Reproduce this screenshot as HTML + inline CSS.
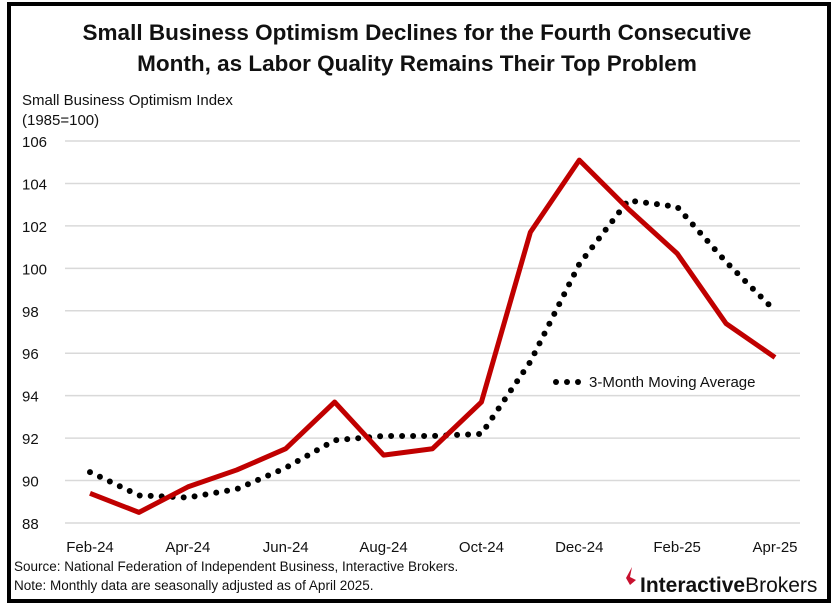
<!DOCTYPE html>
<html><head><meta charset="utf-8"><style>
body{margin:0;background:#fff;width:835px;height:610px;overflow:hidden;font-family:"Liberation Sans",sans-serif}
</style></head><body>
<svg width="835" height="610" viewBox="0 0 835 610" style="position:absolute;left:0;top:0">
<rect x="9" y="4" width="820" height="597" fill="#fff" stroke="#000" stroke-width="4"/>
<text x="417" y="40" text-anchor="middle" font-size="22.5" font-weight="bold" fill="#111">Small Business Optimism Declines for the Fourth Consecutive</text>
<text x="417" y="71" text-anchor="middle" font-size="22.5" font-weight="bold" fill="#111">Month, as Labor Quality Remains Their Top Problem</text>
<text x="22" y="105" font-size="15" fill="#111">Small Business Optimism Index</text>
<text x="22" y="125" font-size="15" fill="#111">(1985=100)</text>
<g id="grid"></g><g id="yt"></g><g id="xt"></g>
<g id="series"></g>
<circle cx="556" cy="382" r="3" fill="#000"/>
<circle cx="567" cy="382" r="3" fill="#000"/>
<circle cx="578" cy="382" r="3" fill="#000"/>
<text x="589" y="387" font-size="15" fill="#111">3-Month Moving Average</text>
<text x="14" y="571" font-size="13.5" fill="#111">Source: National Federation of Independent  Business, Interactive Brokers.</text>
<text x="14" y="590" font-size="13.5" fill="#111">Note: Monthly data are seasonally adjusted as of April 2025.</text>
<path d="M632 567 L626 578 L630 585 L636 580 L630 577 Z" fill="#c8102e"/>
<text x="640" y="592" font-size="21" fill="#111"><tspan font-weight="bold">Interactive</tspan>Brokers</text>
</svg>
<script>
const categories=["Feb-24","Mar-24","Apr-24","May-24","Jun-24","Jul-24","Aug-24","Sep-24","Oct-24","Nov-24","Dec-24","Jan-25","Feb-25","Mar-25","Apr-25"];
const indexValues=[89.4,88.5,89.7,90.5,91.5,93.7,91.2,91.5,93.7,101.7,105.1,102.8,100.7,97.4,95.8];
const movingAvg=[90.4,89.3,89.2,89.6,90.6,91.9,92.1,92.1,92.2,95.6,100.2,103.2,102.9,100.3,98.0];
const yTicks=[88,90,92,94,96,98,100,102,104,106];
const xLabelIdx=[0,2,4,6,8,10,12,14];
const NS="http://www.w3.org/2000/svg";
const x=i=>90+i*(775-90)/14;
const y=v=>523-(v-88)*(523-141)/18;
function mk(t,a,p){const e=document.createElementNS(NS,t);for(const k in a)e.setAttribute(k,a[k]);document.getElementById(p).appendChild(e);return e;}
yTicks.forEach(v=>{
 const l=mk('line',{x1:65,x2:800,y1:y(v),y2:y(v),stroke:'#d9d9d9','stroke-width':1.5},'grid');
 
 
 const t=mk('text',{x:22,y:y(v)+6,'font-size':15,fill:'#111'},'yt');t.textContent=v;
 
 
});
xLabelIdx.forEach(i=>{
 const t=mk('text',{x:x(i),y:552,'font-size':15,fill:'#111','text-anchor':'middle'},'xt');t.textContent=categories[i];
 
 
});
const ma=mk('polyline',{points:movingAvg.map((v,i)=>x(i)+','+y(v)).join(' '),fill:'none',stroke:'#000','stroke-width':6,'stroke-linecap':'round','stroke-dasharray':'0 11'},'series');


const ln=mk('polyline',{points:indexValues.map((v,i)=>x(i)+','+y(v)).join(' '),fill:'none',stroke:'#c00000','stroke-width':5,'stroke-linejoin':'round'},'series');


</script>
</body></html>
